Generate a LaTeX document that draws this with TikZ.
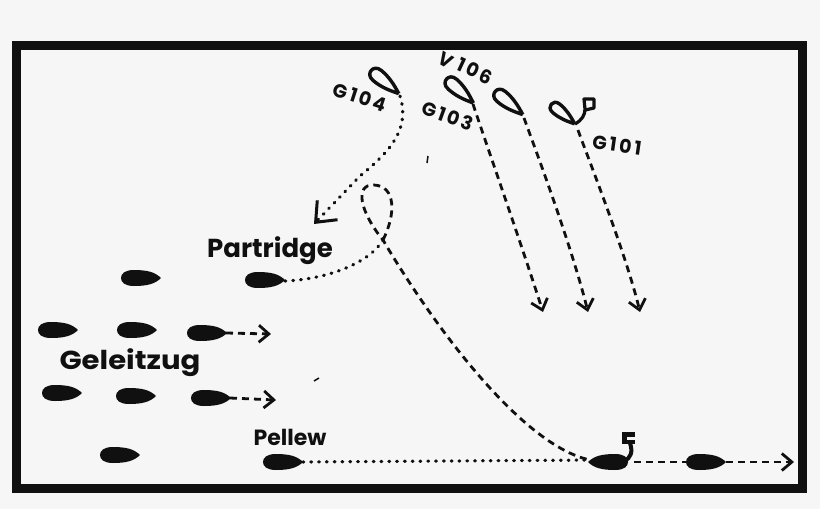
\documentclass[tikz,border=0pt]{standalone}
\usepackage{fontspec}
\setmainfont{Poppins}
\usetikzlibrary{arrows.meta}
\definecolor{paper}{RGB}{246,246,246}
\definecolor{ink}{RGB}{16,16,16}
\begin{document}
\begin{tikzpicture}[x=1pt,y=-1pt,
  hull/.pic={\fill[ink] (20,0) .. controls (14,-6) and (6,-8) .. (-7,-8) .. controls (-16,-8) and (-20,-4.5) .. (-20,0) .. controls (-20,4.5) and (-16,8) .. (-7,8) .. controls (6,8) and (14,6) .. (20,0) -- cycle;},
  loophull/.pic={\draw[ink,line width=3.4pt,line join=round] (18,0) .. controls (8,-4) and (0,-6.5) .. (-10,-6.5) .. controls (-16,-6.5) and (-18,-3) .. (-18,0) .. controls (-18,3) and (-16,6.5) .. (-10,6.5) .. controls (0,6.5) and (8,4) .. (18,0);},
  dotline/.style={ink,line width=3.2pt,line cap=round,dash pattern=on 0.8pt off 7pt},
  dashline/.style={ink,line width=2.8pt,dash pattern=on 7pt off 5pt},
  barb/.style={-{Straight Barb[length=10pt,width=17pt,line width=2.8pt]}},
  bigbarb/.style={-{Straight Barb[length=17pt,width=28pt,line width=3pt]}},
  lab/.style={font=\fontsize{19}{19}\selectfont\bfseries\addfontfeature{LetterSpace=14},text=ink,inner sep=0pt},
  biglab/.style={font=\fontsize{26}{26}\selectfont\bfseries,text=ink,inner sep=0pt},
]
\useasboundingbox (0,0) rectangle (820,509);
\fill[paper] (0,0) rectangle (820,509);
% frame
\draw[ink,line width=9pt] (16.5,45.5) rectangle (802.5,488.5);

% ---------- German destroyers (top) ----------
\coordinate (g104) at (385,82);
\coordinate (g103) at (460,91);
\coordinate (v106) at (509,103);
\coordinate (g101) at (563,114);
\pic[rotate=-40] at (g104) {loophull};
\pic[rotate=-42] at (g103) {loophull};
\pic[rotate=-40] at (v106) {loophull};
\pic[rotate=-40,scale=0.85] at (g101) {loophull};
% hook of G101
\draw[ink,line width=3.2pt,line join=round] (575,124) .. controls (582,120) and (585,115) .. (585,109) -- (584,99) -- (594,99) -- (594,108) -- (585,110);

\node[lab,rotate=-18] (lg104) at (360,97) {G104};
\node[lab,rotate=-20] (lg103) at (448,116) {G103};
\node[lab,rotate=-30] (lv) at (446,60) {V};
\node[lab,rotate=-25] (lv106) at (475,71) {106};
\node[lab,rotate=-8]  (lg101) at (617,145) {G101};

% track ends
\coordinate (g104t) at (400,96);
\coordinate (g104e) at (314,224);
\coordinate (g103t) at (473,104);
\coordinate (g103e) at (543,312);
\coordinate (v106t) at (524,118);
\coordinate (v106e) at (588,312);
\coordinate (g101t) at (578,130);
\coordinate (g101e) at (640,312);

\draw[dotline,bigbarb] (g104t) .. controls (410,128) and (392,150) .. (360,176) -- (g104e);
\draw[dashline,barb] (g103t) .. controls (478,120) and (520,240) .. (g103e);
\draw[dashline,barb] (v106t) .. controls (530,135) and (570,240) .. (v106e);
\draw[dashline,barb] (g101t) .. controls (583,145) and (625,250) .. (g101e);

% ---------- convoy ----------
\coordinate (c11) at (141,278);
\coordinate (part) at (265,280);
\coordinate (c21) at (58,330);
\coordinate (c22) at (137,330);
\coordinate (c23) at (207,333);
\coordinate (c31) at (62,393);
\coordinate (c32) at (136,396);
\coordinate (c33) at (211,398);
\coordinate (c41) at (120,455);
\coordinate (pell) at (283,462);
\foreach \s in {c11,part,c21,c22,c23,c31,c32,c33,c41,pell}
  \pic at (\s) {hull};

\node[biglab] (lpart) at (270,251) {Partridge};
\node[biglab,xscale=1.12] (lgel) at (130,363) {Geleitzug};
\node[font=\fontsize{22}{22}\selectfont\bfseries,text=ink,inner sep=0pt] (lpell) at (290,437) {Pellew};

% convoy arrows
\coordinate (c23t) at (226,333);
\coordinate (c23e) at (271,334);
\coordinate (c33t) at (230,398);
\coordinate (c33e) at (276,400);
\draw[dashline,barb] (c23t) -- (c23e);
\draw[dashline,barb] (c33t) -- (c33e);

% ---------- Partridge track ----------
\coordinate (partt) at (285,281);
\coordinate (cross) at (383,240);
\coordinate (wreck) at (608,462);
\coordinate (wreckl) at (590,460);
\draw[dotline] (partt) .. controls (330,279) and (370,262) .. (cross);
\draw[dashline] (cross) .. controls (396,214) and (396,186) .. (374,185) .. controls (354,184) and (360,212) .. (cross)
  .. controls (430,320) and (520,445) .. (wreckl);

% ---------- Pellew track ----------
\coordinate (pellt) at (303,462);
\draw[dotline] (pellt) -- (wreckl);

% wrecked ship
\pic[rotate=180] at (wreck) {hull};
\fill[ink] (622,432) rectangle (635,444);
\fill[paper] (627,437) rectangle (635,440);
\draw[ink,line width=4pt] (630,443) .. controls (633,452) and (631,458) .. (624,461);

% ship following
\coordinate (last) at (706,462);
\pic at (last) {hull};
\coordinate (wreckt) at (634,462);
\coordinate (lastl) at (686,462);
\coordinate (lastt) at (726,462);
\coordinate (laste) at (794,462);
\draw[dashline] (wreckt) -- (lastl);
\draw[dashline,barb] (lastt) -- (laste);

% specks
\draw[ink,line width=1.5pt] (428,156) -- (427,163);
\draw[ink,line width=1.5pt] (314,381) -- (319,378);
\end{tikzpicture}
\end{document}
